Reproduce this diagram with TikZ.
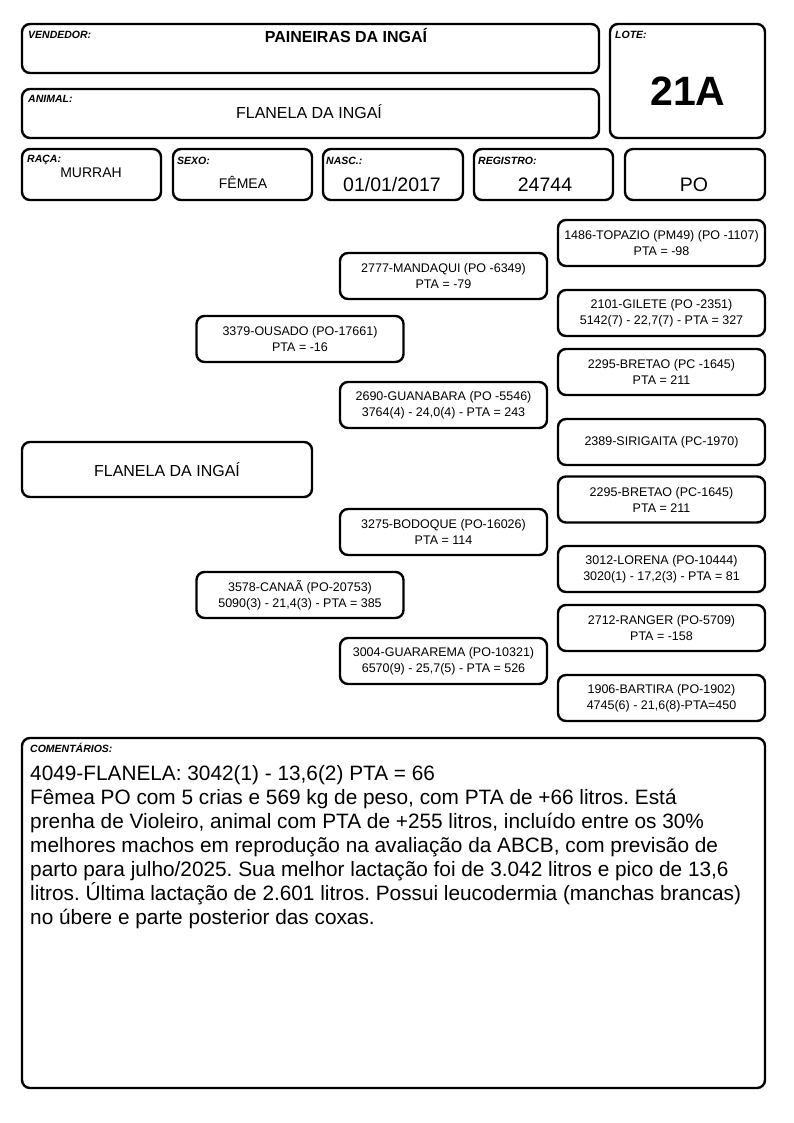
\documentclass[tikz,border=0pt]{standalone}
\usepackage{fontspec}
\setmainfont{Liberation Sans}
\frenchspacing
\newcommand{\pedfont}{\fontsize{12.5}{16}\selectfont}
\newcommand{\tagfont}{\fontsize{10.5}{12}\selectfont\bfseries\itshape}

\begin{document}
\begin{tikzpicture}[x=1pt,y=-1pt]
		\tikzset{box/.style = {draw, rounded corners=8pt, line width=2.4pt, inner sep=0pt}}
		\tikzset{ped/.style = {box, minimum width=207pt, minimum height=46pt, align=center, font=\pedfont}}
		\tikzset{tag/.style = {anchor=base west, inner sep=0pt, font=\tagfont}}
		\tikzset{val/.style = {anchor=base, inner sep=0pt}}

		\useasboundingbox (0,0) rectangle (794,1123);

		% cabecalho
		\node[box, minimum width=577pt, minimum height=49pt] (vendedor) at (310.5,  48.5) {};
		\node[box, minimum width=155pt, minimum height=114pt] (lote)    at (687.5,  81.0) {};
		\node[box, minimum width=577pt, minimum height=49pt] (animal)   at (310.5, 113.5) {};
		\node[box, minimum width=139pt, minimum height=51pt] (raca)     at ( 91.5, 174.5) {};
		\node[box, minimum width=139pt, minimum height=51pt] (sexo)     at (242.5, 174.5) {};
		\node[box, minimum width=140pt, minimum height=51pt] (nasc)     at (393.0, 174.5) {};
		\node[box, minimum width=139pt, minimum height=51pt] (registro) at (543.5, 174.5) {};
		\node[box, minimum width=140pt, minimum height=51pt] (po)       at (695.0, 174.5) {};

		\node[tag] (tvendedor) at ( 28,  38.5) {VENDEDOR:};
		\node[tag] (tlote)     at (615,  39) {LOTE:};
		\node[tag] (tanimal)   at ( 28, 103) {ANIMAL:};
		\node[tag] (traca)     at ( 27, 163) {RAÇA:};
		\node[tag] (tsexo)     at (177, 165) {SEXO:};
		\node[tag] (tnasc)     at (326, 165) {NASC.:};
		\node[tag] (tregistro) at (478, 165) {REGISTRO:};

		\node[val, font=\fontsize{16}{18}\selectfont\bfseries] (vvendedor) at (346, 43) {PAINEIRAS DA INGAÍ};
		\node[val, font=\fontsize{41}{44}\selectfont\bfseries] (vlote)     at (688, 105.5) {21A};
		\node[val, font=\fontsize{16}{18}\selectfont]          (vanimal)   at (309, 119) {FLANELA DA INGAÍ};
		\node[val, font=\fontsize{14}{16}\selectfont]          (vraca)     at ( 91, 178) {MURRAH};
		\node[val, font=\fontsize{14}{16}\selectfont]          (vsexo)     at (243, 189) {FÊMEA};
		\node[val, font=\fontsize{19.5}{22}\selectfont]        (vnasc)     at (392, 191.5) {01/01/2017};
		\node[val, font=\fontsize{19.5}{22}\selectfont]        (vregistro) at (545, 191.5) {24744};
		\node[val, font=\fontsize{19.5}{22}\selectfont]        (vpo)       at (694, 191.5) {PO};

		% genealogia
		\node[ped, minimum width=290pt, minimum height=55pt, font=\fontsize{16}{18}\selectfont] (1) at (167, 469.5) {FLANELA DA INGAÍ};

		\node[ped] (2) at (300, 339) {3379-OUSADO (PO-17661)\\PTA = -16};
		\node[ped] (3) at (300, 595) {3578-CANAÃ (PO-20753)\\5090(3) - 21,4(3) - PTA = 385};

		\node[ped] (4) at (443.5, 276) {2777-MANDAQUI (PO -6349)\\PTA = -79};
		\node[ped] (5) at (443.5, 405) {2690-GUANABARA (PO -5546)\\3764(4) - 24,0(4) - PTA = 243};
		\node[ped] (6) at (443.5, 532) {3275-BODOQUE (PO-16026)\\PTA = 114};
		\node[ped] (7) at (443.5, 661) {3004-GUARAREMA (PO-10321)\\6570(9) - 25,7(5) - PTA = 526};

		\node[ped] (8)  at (661.5, 243) {1486-TOPAZIO (PM49) (PO -1107)\\PTA = -98};
		\node[ped] (9)  at (661.5, 313) {2101-GILETE (PO -2351)\\5142(7) - 22,7(7) - PTA = 327};
		\node[ped] (10) at (661.5, 372) {2295-BRETAO (PC -1645)\\PTA = 211};
		\node[ped] (11) at (661.5, 442) {2389-SIRIGAITA (PC-1970)};
		\node[ped] (12) at (661.5, 499.5) {2295-BRETAO (PC-1645)\\PTA = 211};
		\node[ped] (13) at (661.5, 569) {3012-LORENA (PO-10444)\\3020(1) - 17,2(3) - PTA = 81};
		\node[ped] (14) at (661.5, 628) {2712-RANGER (PO-5709)\\PTA = -158};
		\node[ped] (15) at (661.5, 698) {1906-BARTIRA (PO-1902)\\4745(6) - 21,6(8)-PTA=450};

		% comentarios
		\node[box, minimum width=743pt, minimum height=350pt] (comentarios) at (393.5, 913) {};
		\node[tag] (tcomentarios) at (30, 752) {COMENTÁRIOS:};
		\node[anchor=north west, inner sep=0pt, align=left, font=\fontsize{20.8}{24}\selectfont] (texto) at (30, 765) {%
			4049-FLANELA: 3042(1) - 13,6(2) PTA = 66\\
			Fêmea PO com 5 crias e 569 kg de peso, com PTA de +66 litros. Está\\
			prenha de Violeiro, animal com PTA de +255 litros, incluído entre os 30\%\\
			melhores machos em reprodução na avaliação da ABCB, com previsão de\\
			parto para julho/2025. Sua melhor lactação foi de 3.042 litros e pico de 13,6\\
			litros. Última lactação de 2.601 litros. Possui leucodermia (manchas brancas)\\
			no úbere e parte posterior das coxas.};
		\end{tikzpicture}
\end{document}
